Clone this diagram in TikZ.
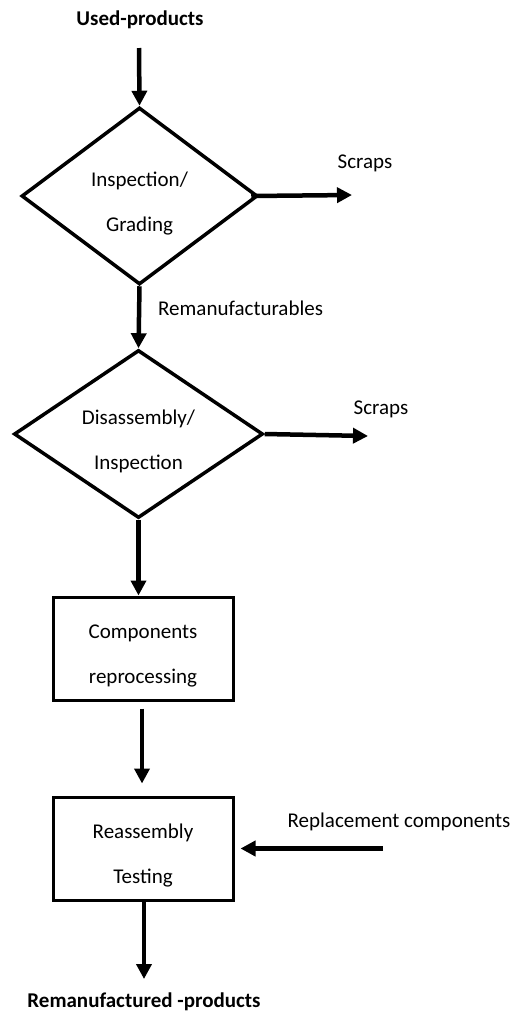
\documentclass[tikz,border=0pt]{standalone}
\usepackage{fontspec}
\setmainfont{Carlito}
\usetikzlibrary{shapes.geometric,arrows.meta}
\newcommand\mylinestrut{\rule{0pt}{29pt}}
\begin{document}
\begin{tikzpicture}[x=1pt,y=-1pt,
  txt/.style={font=\fontsize{21}{25}\selectfont, inner sep=0pt},
  btxt/.style={font=\fontsize{21}{25}\selectfont\bfseries, inner sep=0pt},
  inbox/.style={font=\fontsize{21}{45}\selectfont, align=center, inner sep=0pt},
  dec/.style={diamond, draw, line width=3.5pt, inbox},
  procbox/.style={rectangle, draw, line width=3pt, inbox, minimum width=180pt, minimum height=103pt},
  arr/.style={line width=4.5pt, -{Triangle[length=15pt,width=15pt]}}]
\useasboundingbox (0,0) rectangle (520,1013);
\node[btxt] (in) at (140,20) {Used-products};
\coordinate (instart) at (139,48);
\node[dec, aspect=1.33, minimum width=236pt, minimum height=177pt] (d1) at (139.5,196) {\mylinestrut Inspection/\\Grading};
\coordinate (s1end) at (352,195);
\node[txt] (s1) at (365,163) {Scraps};
\node[txt, anchor=west] (rem) at (158,308) {Remanufacturables};
\node[dec, aspect=1.48, minimum width=249pt, minimum height=168pt] (d2) at (138.5,434) {\mylinestrut Disassembly/\\Inspection};
\coordinate (s2end) at (368,436);
\node[txt] (s2) at (381,409) {Scraps};
\node[procbox] (b1) at (143,648.5) {\mylinestrut Components\\reprocessing};
\node[procbox] (b2) at (143,848.5) {\mylinestrut Reassembly\\Testing};
\coordinate (repstart) at (383,848.5);
\node[txt] (rep) at (399,822) {Replacement components};
\coordinate (outend) at (144,979);
\node[btxt] (out) at (144,1002) {Remanufactured -products};

\draw[arr] (instart) -- (d1.north);
\draw[arr] ([xshift=-8pt]d1.east) -- (s1end);
\draw[arr] (d1.south) -- (d2.north);
\draw[arr] (d2.east) -- (s2end);
\draw[arr] (d2.south) -- (d2.south |- b1.north);
\draw[arr] ([xshift=-1pt,yshift=-7pt]b1.south) -- ([xshift=-1pt,yshift=12pt]b2.north);
\draw[arr] (repstart) -- ([xshift=6pt]b2.east);
\draw[arr] (b2.south -| outend) -- (outend);
\end{tikzpicture}
\end{document}
